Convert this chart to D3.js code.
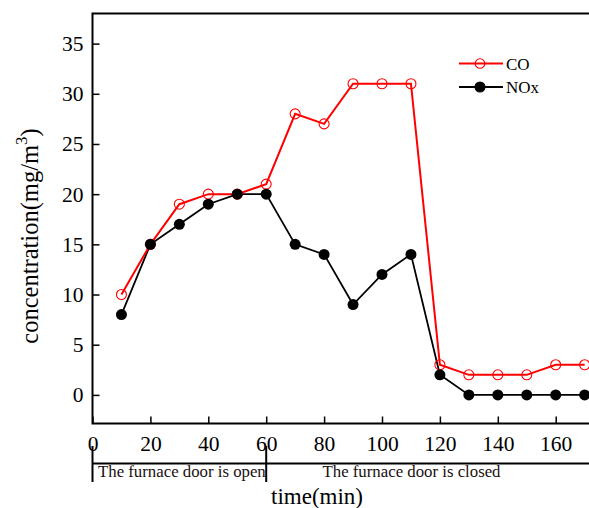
<!DOCTYPE html>
<html><head><meta charset="utf-8">
<script src="https://cdn.jsdelivr.net/npm/d3@7"></script>
<style>body{margin:0;background:#fff}svg{display:block}text{font-family:"Liberation Serif","Times New Roman",serif}</style>
</head><body><svg id="c" width="589" height="508"></svg>
<script>
const times = [10,20,30,40,50,60,70,80,90,100,110,120,130,140,150,160,170];
const coValues = [10,15,19,20,20,21,28,27,31,31,31,3,2,2,2,3,3];
const noxValues = [8,15,17,19,20,20,15,14,9,12,14,2,0,0,0,0,0];
const xTicks = [0,20,40,60,80,100,120,140,160];
const yTicks = [0,5,10,15,20,25,30,35];
const phaseLabels = ["The furnace door is open","The furnace door is closed"];
const phaseBounds = [0,60];

const svg = d3.select("#c");
const L = 92.5, T = 13.5, B = 423.5;
const x = d3.scaleLinear().domain([0,180]).range([L, L + 180*2.895]);
const y = d3.scaleLinear().domain([-2.85,38]).range([B, T]);

// frame
svg.append("path").attr("d",`M${x(180)},${T}H${L}V${B}H${x(180)}`).attr("fill","none").attr("stroke","#000").attr("stroke-width",2);

// y axis
const ya = svg.append("g").attr("transform",`translate(${L},0)`)
  .call(d3.axisRight(y).tickValues(yTicks).tickSize(7).tickFormat(d3.format("d")));
ya.select(".domain").remove();
ya.selectAll("line").attr("stroke","#000").attr("stroke-width",1.5);
ya.selectAll("text").attr("x",-9).attr("text-anchor","end").attr("font-size",21.5).attr("fill","#000")
  .attr("font-family","Liberation Serif");

// x axis
const xa = svg.append("g").attr("transform",`translate(0,${B})`)
  .call(d3.axisTop(x).tickValues(xTicks).tickSize(7).tickFormat(d3.format("d")));
xa.select(".domain").remove();
xa.selectAll("line").attr("stroke","#000").attr("stroke-width",1.5);
xa.selectAll("text").attr("y",27).attr("dy",0).attr("font-size",21.5).attr("fill","#000")
  .attr("font-family","Liberation Serif");

// phase axis
svg.append("line").attr("x1",L).attr("x2",x(180)).attr("y1",463.5).attr("y2",463.5).attr("stroke","#000").attr("stroke-width",2);
phaseBounds.forEach(b=>{
  svg.append("line").attr("x1",x(b)).attr("x2",x(b)).attr("y1",446).attr("y2",482).attr("stroke","#000").attr("stroke-width",2);
});
svg.append("text").attr("x",L+5.5).attr("y",476.5).attr("font-size",16.8).attr("fill","#1a1010").text(phaseLabels[0]);
svg.append("text").attr("x",411.5).attr("y",477).attr("text-anchor","middle").attr("font-size",16.8).attr("fill","#1a1010").text(phaseLabels[1]);

// axis titles
svg.append("text").attr("x",317).attr("y",504).attr("text-anchor","middle").attr("font-size",23).text("time(min)");
const yl = svg.append("text").attr("transform","translate(38,236) rotate(-90)").attr("text-anchor","middle").attr("font-size",24.5);
yl.append("tspan").text("concentration(mg/m");
yl.append("tspan").attr("font-size",17).attr("dy",-11).text("3");
yl.append("tspan").attr("dy",11).text(")");

// series
const line = d3.line().x((d,i)=>x(times[i])).y(d=>y(d));
svg.append("path").datum(noxValues).attr("d",line).attr("fill","none").attr("stroke","#000").attr("stroke-width",1.8);
svg.append("path").datum(coValues).attr("d",line).attr("fill","none").attr("stroke","#ff0000").attr("stroke-width",2);
svg.selectAll("circle.co").data(coValues).enter().append("circle").attr("class","co")
  .attr("cx",(d,i)=>x(times[i])).attr("cy",d=>y(d)).attr("r",5).attr("fill","none").attr("stroke","#ff0000").attr("stroke-width",1.1);
svg.selectAll("circle.nox").data(noxValues).enter().append("circle").attr("class","nox")
  .attr("cx",(d,i)=>x(times[i])).attr("cy",d=>y(d)).attr("r",5.5).attr("fill","#000");

// legend
const lg = svg.append("g");
[["CO","#ff0000",false,63.5],["NOx","#000",true,87]].forEach(([name,col,filled,ly])=>{
  lg.append("line").attr("x1",459).attr("x2",503).attr("y1",ly).attr("y2",ly).attr("stroke",col).attr("stroke-width",2);
  lg.append("circle").attr("cx",480).attr("cy",ly).attr("r",filled?5:4.8).attr("fill",filled?col:"none").attr("stroke",col).attr("stroke-width",1.1);
  lg.append("text").attr("x",506).attr("y",ly+6).attr("font-size",17).text(name);
});
</script></body></html>
